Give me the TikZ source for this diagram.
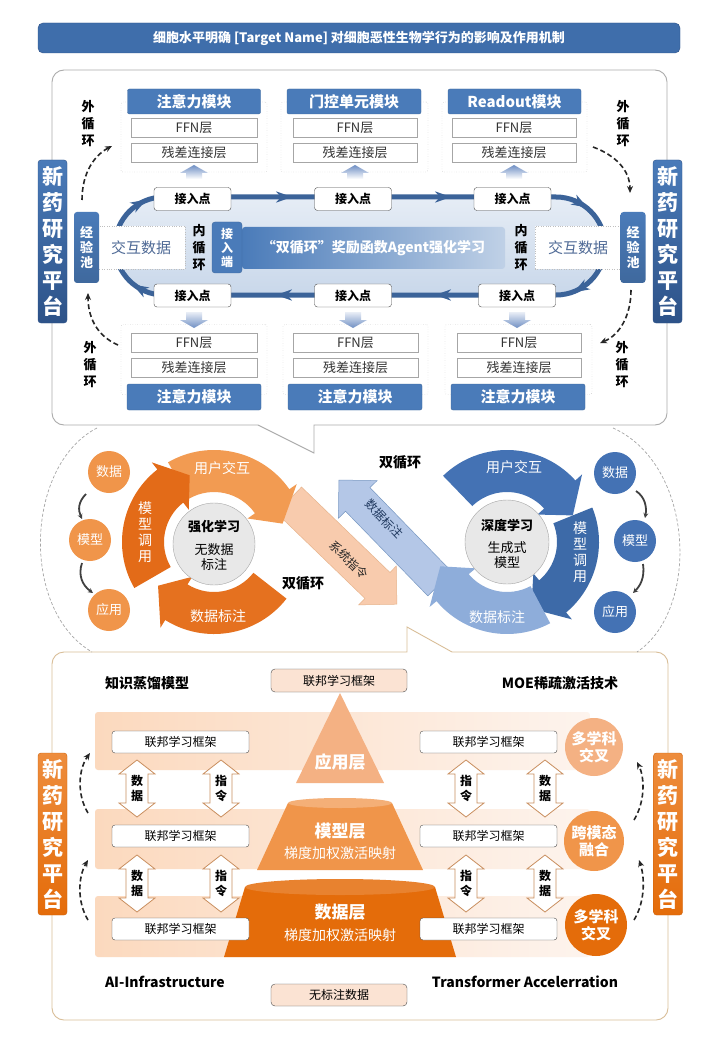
\documentclass[tikz,border=0pt]{standalone}
\usepackage{fontspec}
\setmainfont{Noto Sans CJK SC}
\usetikzlibrary{calc,arrows.meta}
\definecolor{tblue}{HTML}{3F6EAB}
\definecolor{hblue}{HTML}{4A7BB9}
\definecolor{dblue}{HTML}{2D5288}
\definecolor{ringblue}{HTML}{3B6399}
\definecolor{arrblue}{HTML}{6F8FC4}
\definecolor{bA}{HTML}{4472B4}
\definecolor{bB}{HTML}{3D6AA8}
\definecolor{bC}{HTML}{8EADDA}
\definecolor{oA}{HTML}{F29B52}
\definecolor{oB}{HTML}{E36B18}
\definecolor{oC}{HTML}{E5711F}
\definecolor{or1}{HTML}{F4B183}
\definecolor{or2}{HTML}{F0954A}
\definecolor{or3}{HTML}{E46C0A}
\definecolor{tanline}{HTML}{D9BE98}
\definecolor{arrowtan}{HTML}{C98E5E}
\definecolor{peach}{HTML}{F8CBAD}
\definecolor{lblue}{HTML}{B4C7E7}
\definecolor{band}{HTML}{FBE3D3}
\definecolor{slate}{HTML}{4F6A96}
\newcommand{\fsz}[2]{\fontsize{#1}{#2}\selectfont}
\newcommand{\arcArrow}[8]{%
 \begin{scope}[shift={(#1,#2)}]
 \fill[#8] ({#3}:{#7}) arc[start angle={#3}, end angle={#4}, radius={#7}]
 -- ({#4}:{#7+9}) -- ({#5}:{(#6+#7)/2}) -- ({#4}:{#6-9}) -- ({#4}:{#6})
 arc[start angle={#4}, end angle={#3}, radius={#6}] -- cycle;
 \end{scope}}
\newcommand{\diagArrow}[8]{%
 \filldraw[#8] ($(#1,#2)+({#3+90}:{#5})$) -- ($(#1,#2)+({#3}:{#4-#7})+({#3+90}:{#5})$)
 -- ($(#1,#2)+({#3}:{#4-#7})+({#3+90}:{#6})$) -- ($(#1,#2)+({#3}:{#4})$)
 -- ($(#1,#2)+({#3}:{#4-#7})+({#3-90}:{#6})$) -- ($(#1,#2)+({#3}:{#4-#7})+({#3-90}:{#5})$)
 -- ($(#1,#2)+({#3-90}:{#5})$) -- cycle;}
\newcommand{\ringHead}[3]{%
 \fill[ringblue] ($(#1,#2)+({#3}:8)$) -- ($(#1,#2)+({#3+145}:10)$) -- ($(#1,#2)+({#3+180}:3)$) -- ($(#1,#2)+({#3-145}:10)$) -- cycle;}
\newcommand{\dblArrow}[4]{%
 \filldraw[fill=white, draw=arrowtan, line width=0.8pt] (#1,#2) -- ({#1+18},{#2+14}) -- ({#1+11},{#2+14}) -- ({#1+11},{#3-14}) -- ({#1+18},{#3-14}) -- (#1,#3) -- ({#1-18},{#3-14}) -- ({#1-11},{#3-14}) -- ({#1-11},{#2+14}) -- ({#1-18},{#2+14}) -- cycle;
 \node[font=\fsz{12}{15}\bfseries, align=center] at (#1,{(#2+#3)/2}) {#4};}
\newcommand{\upArr}[1]{\shade[top color=arrblue, bottom color=white] (#1,165) -- ({#1+14},173) -- ({#1+8},173) -- ({#1+8},179) -- ({#1-8},179) -- ({#1-8},173) -- ({#1-14},173) -- cycle;}
\newcommand{\downArr}[1]{\shade[top color=arrblue!15!white, bottom color=arrblue] (#1,328) -- ({#1+14},320) -- ({#1+8},320) -- ({#1+8},312) -- ({#1-8},312) -- ({#1-8},320) -- ({#1-14},320) -- cycle;}
\begin{document}
\begin{tikzpicture}[x=1pt,y=-1pt,
 every node/.style={inner sep=0pt, outer sep=0pt},
 hdr/.style={fill=hblue, draw=hblue!85!black, rounded corners=2pt, text=white, font=\fsz{15}{18}\bfseries, minimum height=25pt, minimum width=133pt},
 layerbox/.style={draw=gray!70, fill=white, font=\fsz{13}{15}, text=black!80, minimum width=126pt, minimum height=19pt},
 dotbox/.style={draw=gray!70, dotted, rounded corners=2pt, minimum width=146pt, minimum height=70pt},
 jrd/.style={draw=black!70, fill=white, rounded corners=3pt, font=\fsz{12}{14}\bfseries, minimum width=77pt, minimum height=23pt},
 platB/.style={top color=hblue, bottom color=dblue, draw=dblue, rounded corners=3pt, text=white, font=\fsz{21}{26}\bfseries, align=center, minimum width=29pt, minimum height=163pt},
 platO/.style={top color=or2!80!or3, bottom color=or3, draw=or3!90!black, rounded corners=3pt, text=white, font=\fsz{21}{26}\bfseries, align=center, minimum width=29pt, minimum height=162pt},
 vtx/.style={align=center, font=\fsz{13}{17}\bfseries},
 outer/.style={black!85, line width=1.6pt, dash pattern=on 5pt off 3pt, -{Stealth[length=7pt,width=6pt]}},
 small/.style={-{Stealth[length=5pt,width=5pt]}, line width=1.8pt, black!75},
 fbox/.style={draw=black!70, fill=white, rounded corners=3pt, font=\fsz{12}{14}, minimum width=137pt, minimum height=22pt},
 pbox/.style={draw=black!70, fill=band, rounded corners=4pt, font=\fsz{12}{14}, minimum width=136pt, minimum height=23pt},
 lbl/.style={font=\fsz{14}{16}\bfseries, text=black}
]
\useasboundingbox (0,0) rectangle (720,1040);
\fill[white] (0,0) rectangle (720,1040);

% ---------- title
\node[draw=dblue, fill=tblue, rounded corners=5pt, minimum width=642pt, minimum height=30pt, text=white, font=\fsz{13}{15}\bfseries] (title) at (359,38) {细胞水平明确 [Target Name] 对细胞恶性生物学行为的影响及作用机制};

% ---------- top panel
\draw[gray!65, line width=0.9pt, fill=white] (52,250) -- (52,82) arc[start angle=180, end angle=270, radius=12] -- (655,70) arc[start angle=270, end angle=360, radius=12] -- (667,413) arc[start angle=0, end angle=90, radius=12] -- (314,425) -- (314,453) -- (258,425) -- (64,425) arc[start angle=90, end angle=180, radius=12] -- cycle;

% ---------- bottom panel
\draw[tanline, line width=0.9pt, fill=white] (52,800) -- (52,664) arc[start angle=180, end angle=270, radius=12] -- (407,652) -- (407,627) -- (452,652) -- (656,652) arc[start angle=270, end angle=360, radius=12] -- (668,1008) arc[start angle=0, end angle=90, radius=12] -- (64,1020) arc[start angle=90, end angle=180, radius=12] -- cycle;

% ---------- middle dashed arcs
\draw[gray!70, dash pattern=on 3pt off 2pt, line width=0.7pt] (97,428) .. controls (25,465) and (20,610) .. (92,652);
\draw[gray!70, dash pattern=on 3pt off 2pt, line width=0.7pt] (613,428) .. controls (695,465) and (700,610) .. (637,652);

% ---------- top panel content
\node[vtx] (wTL) at (88,124) {外\\循\\环};
\node[vtx] (wTR) at (623,124) {外\\循\\环};
\node[vtx] (wBL) at (90,365) {外\\循\\环};
\node[vtx] (wBR) at (622,365) {外\\循\\环};

\node[dotbox] (c1) at (194,137) {};
\node[dotbox, minimum width=147pt] (c2) at (354.5,137) {};
\node[dotbox, minimum width=145pt] (c3) at (514.5,137) {};
\node[hdr] (h1) at (194,101.5) {注意力模块};
\node[hdr, minimum width=134pt] (h2) at (354,101.5) {门控单元模块};
\node[hdr] (h3) at (514.5,101.5) {Readout模块};
\node[layerbox] (f1) at (194,128) {FFN层};
\node[layerbox, minimum width=124pt] (f2) at (355,128) {FFN层};
\node[layerbox, minimum width=124pt] (f3) at (514,128) {FFN层};
\node[layerbox] (r1) at (194,152.5) {残差连接层};
\node[layerbox, minimum width=124pt] (r2) at (355,152.5) {残差连接层};
\node[layerbox, minimum width=124pt] (r3) at (514,152.5) {残差连接层};
\upArr{194}\upArr{355}\upArr{514}

% ring
\draw[ringblue, line width=5pt, top color=hblue!14!white, bottom color=hblue!30!white] (164,197) -- (556,197) arc[start angle=270, end angle=450, radius=49] -- (164,295) arc[start angle=90, end angle=270, radius=49] -- cycle;
\ringHead{284}{197}{0}\ringHead{443}{197}{0}
\ringHead{284}{295}{180}\ringHead{443}{295}{180}
\ringHead{139.5}{203.6}{330}\ringHead{580.5}{203.6}{30}
\ringHead{580.5}{288.4}{150}\ringHead{139.5}{288.4}{210}

\node[jrd] (j1) at (192.5,199) {接入点};
\node[jrd] (j2) at (353,199) {接入点};
\node[jrd] (j3) at (512.5,199) {接入点};
\node[jrd] (j4) at (192.5,295.5) {接入点};
\node[jrd] (j5) at (353,295.5) {接入点};
\node[jrd] (j6) at (517,295.5) {接入点};

\node[left color=hblue, right color=hblue!35!white, rounded corners=3pt, minimum width=263pt, minimum height=42pt, text=white, font=\fsz{14}{16}\bfseries] (banner) at (373.5,248) {“双循环”奖励函数Agent强化学习};
\node[fill=hblue, draw=hblue!85!black, rounded corners=3pt, minimum width=30pt, minimum height=51pt, text=white, align=center, font=\fsz{12}{14}\bfseries] (jrdu) at (227,247.5) {接\\入\\端};
\node[vtx] (nl) at (199,248) {内\\循\\环};
\node[vtx] (nr) at (521,248) {内\\循\\环};
\node[draw=gray!50, dotted, fill=white, minimum width=88pt, minimum height=43pt, font=\fsz{15}{17}, text=slate] (jl) at (141,247.5) {交互数据};
\node[draw=gray!50, dotted, fill=white, minimum width=86pt, minimum height=43pt, font=\fsz{15}{17}, text=slate] (jr) at (578,247.5) {交互数据};
\node[top color=hblue, bottom color=hblue!85!black, rounded corners=3pt, minimum width=25pt, minimum height=71pt, text=white, align=center, font=\fsz{13}{15}\bfseries] (ep1) at (86.5,247.5) {经\\验\\池};
\node[top color=hblue, bottom color=hblue!85!black, rounded corners=3pt, minimum width=25pt, minimum height=71pt, text=white, align=center, font=\fsz{13}{15}\bfseries] (ep2) at (633,247.5) {经\\验\\池};
\node[platB] (pB1) at (52.5,241.5) {新\\药\\研\\究\\平\\台};
\node[platB] (pB2) at (667.5,241.5) {新\\药\\研\\究\\平\\台};

\downArr{194}\downArr{353}\downArr{517}
\node[dotbox] (c4) at (194,359.5) {};
\node[dotbox, minimum width=145pt] (c5) at (355.5,359.5) {};
\node[dotbox, minimum width=147pt] (c6) at (518.5,359.5) {};
\node[layerbox] (f4) at (194,342.5) {FFN层};
\node[layerbox, minimum width=125pt] (f5) at (355.5,342.5) {FFN层};
\node[layerbox, minimum width=124pt] (f6) at (519,342.5) {FFN层};
\node[layerbox] (r4) at (194,367.5) {残差连接层};
\node[layerbox, minimum width=125pt] (r5) at (355.5,367.5) {残差连接层};
\node[layerbox, minimum width=124pt] (r6) at (519,367.5) {残差连接层};
\node[hdr, minimum width=134pt, minimum height=26pt] (h4) at (194,397) {注意力模块};
\node[hdr, minimum width=134pt, minimum height=26pt] (h5) at (355,397) {注意力模块};
\node[hdr, minimum width=134pt, minimum height=26pt] (h6) at (518,397) {注意力模块};

\coordinate (oTLa) at (82,200); \coordinate (oTLb) at (112,146);
\coordinate (oTRa) at (593,147); \coordinate (oTRb) at (630,193);
\coordinate (oBLa) at (118,345); \coordinate (oBLb) at (88,293);
\coordinate (oBRa) at (631,290); \coordinate (oBRb) at (600,343);
\draw[outer] (oTLa) .. controls (82,172) and (95,155) .. (oTLb);
\draw[outer] (oTRa) .. controls (615,155) and (630,170) .. (oTRb);
\draw[outer] (oBLa) .. controls (95,335) and (88,315) .. (oBLb);
\draw[outer] (oBRa) .. controls (631,315) and (620,335) .. (oBRb);

% ---------- middle: diagonal arrows
\diagArrow{289}{500}{44}{150}{18}{27}{27}{fill=peach, draw=peach!70!brown, line width=0.5pt}
\diagArrow{440}{584}{225.8}{145}{17}{27}{27}{fill=lblue, draw=bB!70!white, line width=0.5pt}
\node[rotate=-44, font=\fsz{12}{14}, text=black!85] (sys) at (349,560) {系统指令};
\node[rotate=-46, font=\fsz{12}{14}, text=dblue!70!black] (dlab) at (384,519) {数据标注};

% orange cycle
\arcArrow{214}{542}{240}{325}{345}{50}{92}{oA}
\arcArrow{214}{542}{38}{122}{142}{50}{92}{oC}
\arcArrow{214}{542}{150}{232}{250}{50}{92}{oB}
\node[text=white, font=\fsz{14}{16}] (oa) at (222,468) {用户交互};
\node[text=white, font=\fsz{14}{16}] (oc) at (218,616) {数据标注};
\node[text=white, align=center, font=\fsz{14}{16}] (ob) at (145,532) {模\\型\\调\\用};
\node[circle, fill=gray!18, draw=gray!70, minimum size=82pt] (rl) at (214,544) {};
\node[font=\fsz{13}{15}\bfseries] at (214,527) {强化学习};
\node[font=\fsz{13}{15}, align=center] at (214,557) {无数据\\标注};

% blue cycle
\arcArrow{507}{542}{226}{318}{338}{50}{92}{bA}
\arcArrow{507}{542}{-22}{50}{70}{50}{92}{bB}
\arcArrow{507}{542}{62}{140}{160}{50}{92}{bC}
\node[text=white, font=\fsz{14}{16}] (ba) at (514,467) {用户交互};
\node[text=white, font=\fsz{14}{16}] (bc) at (497,617) {数据标注};
\node[text=white, align=center, font=\fsz{14}{16}] (bb) at (580,552) {模\\型\\调\\用};
\node[circle, fill=gray!18, draw=gray!70, minimum size=84pt] (dl) at (507,542) {};
\node[font=\fsz{13}{15}\bfseries] at (507,525) {深度学习};
\node[font=\fsz{13}{15}, align=center] at (507,555) {生成式\\模型};

\node[lbl] (sx1) at (400,462) {双循环};
\node[lbl] (sx2) at (303,583) {双循环};

% small circles
\node[circle, fill=or2, minimum size=42pt, text=white, font=\fsz{13}{15}] (lo1) at (109,472) {数据};
\node[circle, fill=or2, minimum size=42pt, text=white, font=\fsz{13}{15}] (lo2) at (90,540) {模型};
\node[circle, fill=or2, minimum size=42pt, text=white, font=\fsz{13}{15}] (lo3) at (109,610) {应用};
\node[circle, fill=bA, minimum size=42pt, text=white, font=\fsz{13}{15}] (rb1) at (615,473) {数据};
\node[circle, fill=bA, minimum size=42pt, text=white, font=\fsz{13}{15}] (rb2) at (635,541) {模型};
\node[circle, fill=bA, minimum size=42pt, text=white, font=\fsz{13}{15}] (rb3) at (615,612) {应用};
\draw[small] (86,494) .. controls (78,502) and (78,510) .. (82,519);
\draw[small] (82,563) .. controls (78,575) and (82,585) .. (93,593);
\draw[small] (636,491) .. controls (645,497) and (647,507) .. (645,518);
\draw[small] (643,564) .. controls (645,578) and (640,586) .. (633,593);

% ---------- bottom panel content
\node[lbl, anchor=west] (kd) at (105,683) {知识蒸馏模型};
\node[lbl] (moe) at (560,683) {MOE稀疏激活技术};
\node[lbl, anchor=west] (ai) at (105,982) {AI-Infrastructure};
\node[lbl] (tr) at (525,982) {Transformer Accelerration};
\node[pbox] (ptop) at (339,680.5) {联邦学习框架};
\node[pbox, minimum height=22pt] (pbot) at (339,995) {无标注数据};

\shade[left color=band!90!orange, right color=band!40!white, rounded corners=3pt] (95,712) rectangle (590,770);
\shade[left color=band!90!orange, right color=band!40!white, rounded corners=3pt] (95,809) rectangle (590,869);
\shade[left color=band!90!orange, right color=band!40!white, rounded corners=3pt] (95,896) rectangle (590,957);

% pyramid
\fill[or1] (340,693) -- (384,783) -- (296,783) -- cycle;
\fill[or2] (288,803) -- (257,870) -- (423,870) -- (392,803) -- cycle;
\fill[or2!75!white] (340,803) ellipse[x radius=52, y radius=5];
\fill[or3] (245,887) -- (224,957) -- (456,957) -- (435,887) -- cycle;
\fill[or3!85!white] (340,887) ellipse[x radius=95, y radius=8];
\node[text=white, font=\fsz{17}{19}\bfseries] (app) at (340,762) {应用层};
\node[text=white, font=\fsz{17}{19}\bfseries] (mdl) at (340,831) {模型层};
\node[text=white, font=\fsz{14}{16}] (mdl2) at (340,853) {梯度加权激活映射};
\node[text=white, font=\fsz{17}{19}\bfseries] (dat) at (340,912) {数据层};
\node[text=white, font=\fsz{14}{16}] (dat2) at (340,935) {梯度加权激活映射};

\node[fbox] (b1l) at (180.5,742) {联邦学习框架};
\node[fbox] (b1r) at (488.5,742) {联邦学习框架};
\node[fbox] (b2l) at (180.5,836) {联邦学习框架};
\node[fbox] (b2r) at (488.5,836) {联邦学习框架};
\node[fbox] (b3l) at (180.5,929) {联邦学习框架};
\node[fbox] (b3r) at (488.5,929) {联邦学习框架};

\dblArrow{137}{760}{817}{数\\据}
\dblArrow{221}{760}{817}{指\\令}
\dblArrow{466}{760}{817}{指\\令}
\dblArrow{545}{760}{817}{数\\据}
\dblArrow{137}{855}{912}{数\\据}
\dblArrow{221}{855}{912}{指\\令}
\dblArrow{466}{855}{912}{指\\令}
\dblArrow{545}{855}{912}{数\\据}

\node[circle, fill=or1, minimum size=58pt, text=white, align=center, font=\fsz{15}{17}\bfseries] (m1) at (594,747) {多学科\\交叉};
\node[circle, fill=or2, minimum size=60pt, text=white, align=center, font=\fsz{15}{17}\bfseries] (m2) at (594,841) {跨模态\\融合};
\node[circle, fill=or3, minimum size=62pt, text=white, align=center, font=\fsz{15}{17}\bfseries] (m3) at (596,925) {多学科\\交叉};

\node[platO] (pO1) at (52.5,834) {新\\药\\研\\究\\平\\台};
\node[platO] (pO2) at (668,834) {新\\药\\研\\究\\平\\台};

\draw[outer] (88,813) .. controls (77,795) and (78,770) .. (90,753);
\draw[outer] (88,920) .. controls (77,902) and (78,877) .. (88,860);
\draw[outer] (634,820) .. controls (645,802) and (645,778) .. (637,762);
\draw[outer] (634,920) .. controls (645,902) and (645,878) .. (639,860);
\end{tikzpicture}
\end{document}
